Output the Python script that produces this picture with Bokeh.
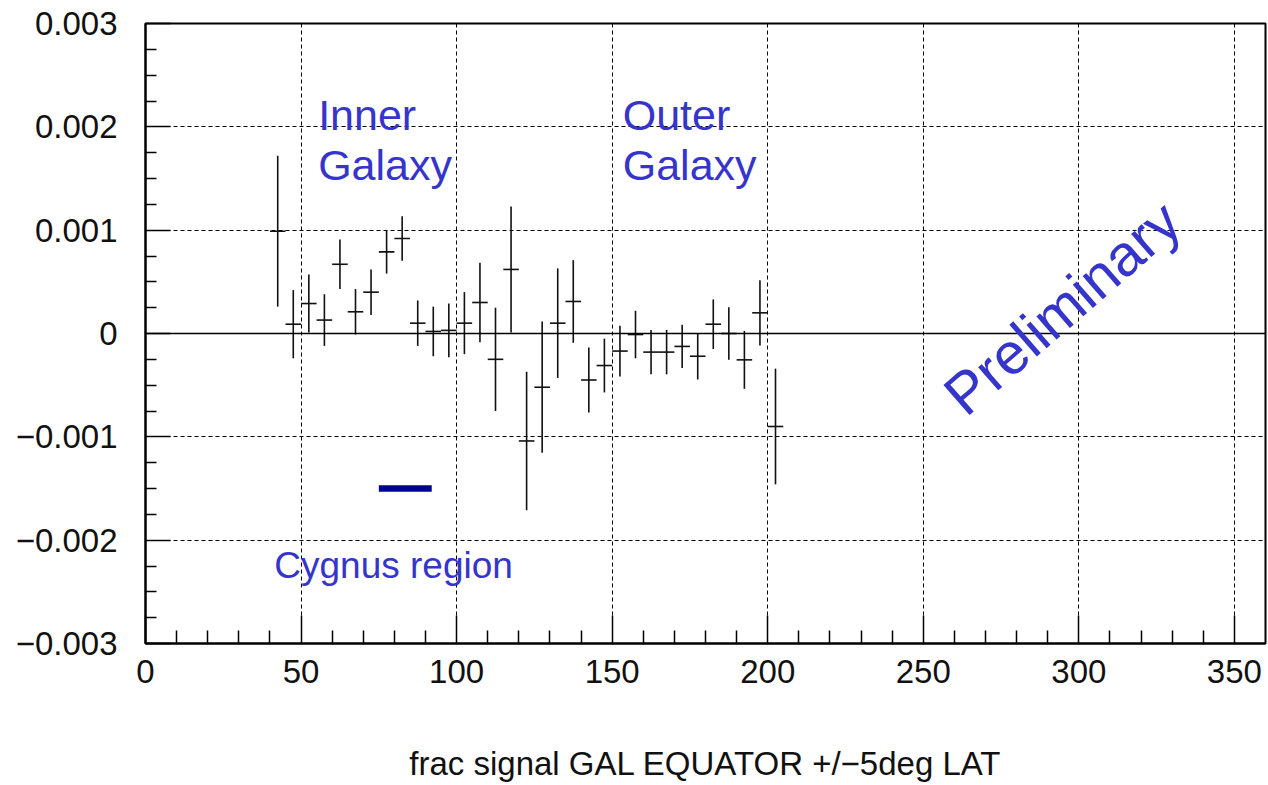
from bokeh.plotting import figure
from bokeh.models import (FixedTicker, CustomJSTickFormatter, Span, Label,
                          ColumnDataSource, Range1d)
from bokeh.embed import file_html
from bokeh.resources import INLINE
import numpy as np

# ---------------- data ----------------
lon = [42.5, 47.5, 52.5, 57.5, 62.5, 67.5, 72.5, 77.5, 82.5, 87.5, 92.5,
       97.5, 102.5, 107.5, 112.5, 117.5, 122.5, 127.5, 132.5, 137.5, 142.5,
       147.5, 152.5, 157.5, 162.5, 167.5, 172.5, 177.5, 182.5, 187.5, 192.5,
       197.5, 202.5]
frac = [0.00099, 0.00009, 0.00029, 0.00013, 0.00067, 0.00021, 0.00040,
        0.00079, 0.00092, 0.00010, 0.00002, 0.00003, 0.00010, 0.00030,
        -0.00025, 0.00062, -0.00104, -0.00052, 0.00010, 0.00031, -0.00045,
        -0.00031, -0.00017, -0.00001, -0.00018, -0.00018, -0.000125,
        -0.00022, 0.00009, 0.00000, -0.000255, 0.00020, -0.00090]
err = [0.00073, 0.00033, 0.00028, 0.00025, 0.00024, 0.00022, 0.00022,
       0.00021, 0.000215, 0.00022, 0.00024, 0.00026, 0.00030, 0.000385,
       0.00050, 0.00061, 0.00067, 0.000635, 0.00053, 0.00040, 0.000315,
       0.00026, 0.000245, 0.00023, 0.000215, 0.000215, 0.00021, 0.000225,
       0.00024, 0.000255, 0.00028, 0.000315, 0.00056]
bin_half_width = 2.5

cygnus_lon = [75, 92]
cygnus_level = -0.0015

x_major = [0, 50, 100, 150, 200, 250, 300, 350]
x_minor = [10, 20, 30, 40, 60, 70, 80, 90, 110, 120, 130, 140, 160, 170, 180,
           190, 210, 220, 230, 240, 260, 270, 280, 290, 310, 320, 330, 340]
y_major = [-0.003, -0.002, -0.001, 0.0, 0.001, 0.002, 0.003]
y_minor = [-0.00275, -0.0025, -0.00225, -0.00175, -0.0015, -0.00125,
           -0.00075, -0.0005, -0.00025, 0.00025, 0.0005, 0.00075,
           0.00125, 0.0015, 0.00175, 0.00225, 0.0025, 0.00275]
x_grid = [50, 100, 150, 200, 250, 300, 350]
y_grid = [-0.002, -0.001, 0.001, 0.002]

x_label = "frac signal GAL EQUATOR +/\u22125deg LAT"

# ---------------- figure ----------------
TICK_FONT = "Liberation Sans"
BLUE = "#3535CC"

p = figure(width=1267, height=785, output_backend="svg", toolbar_location=None,
           x_range=Range1d(0, 360), y_range=Range1d(-0.003, 0.003),
           min_border_left=145, min_border_right=2, min_border_top=23,
           min_border_bottom=142)
p.background_fill_color = "white"
p.border_fill_color = "white"
p.outline_line_color = "black"
p.outline_line_width = 2

# axes
p.xaxis.ticker = FixedTicker(ticks=x_major, minor_ticks=x_minor)
p.yaxis.ticker = FixedTicker(ticks=y_major, minor_ticks=y_minor)
p.yaxis.formatter = CustomJSTickFormatter(code="""
    if (Math.abs(tick) < 1e-9) return "0";
    return (tick < 0 ? "\\u2212" : "") + Math.abs(tick).toFixed(3);
""")
for ax in (p.xaxis[0], p.yaxis[0]):
    ax.axis_line_color = "black"
    ax.axis_line_width = 2
    ax.major_tick_line_color = "black"
    ax.minor_tick_line_color = "black"
    ax.major_tick_line_width = 1.5
    ax.minor_tick_line_width = 1.5
    ax.major_tick_out = 0
    ax.minor_tick_out = 0
    ax.major_label_text_font = TICK_FONT
    ax.major_label_text_font_size = "33px"
    ax.major_label_text_color = "#111111"

p.xaxis.major_tick_in = 28
p.xaxis.minor_tick_in = 13
p.yaxis.major_tick_in = 25
p.yaxis.minor_tick_in = 11
p.xaxis.major_label_standoff = 16
p.yaxis.major_label_standoff = 28

p.xaxis.axis_label = x_label
p.xaxis.axis_label_text_font = TICK_FONT
p.xaxis.axis_label_text_font_size = "33px"
p.xaxis.axis_label_text_font_style = "normal"
p.xaxis.axis_label_text_color = "#111111"
p.xaxis.axis_label_standoff = 59

# grid
p.xgrid.ticker = FixedTicker(ticks=x_grid)
p.ygrid.ticker = FixedTicker(ticks=y_grid)
for g in (p.xgrid[0], p.ygrid[0]):
    g.grid_line_color = "black"
    g.grid_line_width = 1
    g.grid_line_dash = "4 3"

p.add_layout(Span(location=0, dimension="width", line_color="black",
                  line_width=1.5))

# data points with error bars
x = np.array(lon)
y = np.array(frac)
e = np.array(err)
src = ColumnDataSource(dict(x=x, y=y, lo=y - e, hi=y + e,
                            xl=x - bin_half_width, xr=x + bin_half_width))
p.segment(x0="x", x1="x", y0="lo", y1="hi", source=src,
          line_color="#111111", line_width=1.6)
p.segment(x0="xl", x1="xr", y0="y", y1="y", source=src,
          line_color="#111111", line_width=1.6)

# Cygnus region marker
p.segment(x0=[cygnus_lon[0]], x1=[cygnus_lon[1]], y0=[cygnus_level],
          y1=[cygnus_level], line_color="#000099", line_width=6.5,
          line_cap="butt")

# annotations
def lab(xv, yv, txt, size, angle=0):
    p.add_layout(Label(x=xv, y=yv, text=txt, text_font="Liberation Sans",
                       text_font_size=size, text_color=BLUE,
                       text_align="left", text_baseline="alphabetic",
                       angle=angle, angle_units="deg"))

lab(55.5, 0.002116, "Inner", "43px")
lab(55.5, 0.001626, "Galaxy", "43px")
lab(153.4, 0.002116, "Outer", "43px")
lab(153.4, 0.001626, "Galaxy", "43px")
lab(41.4, -0.002244, "Cygnus region", "37px")
lab(259.4, -0.000671, "Preliminary", "58px", angle=41)

open("out.html", "w").write(file_html(p, INLINE))
